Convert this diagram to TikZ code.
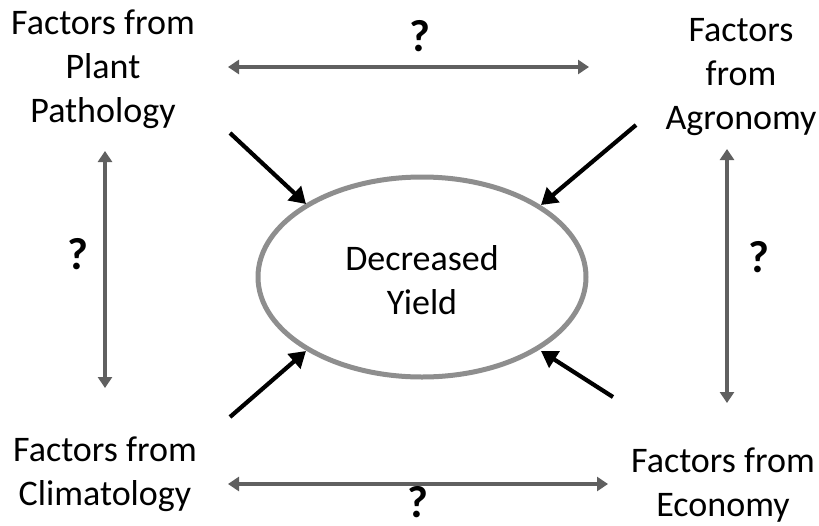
\documentclass[tikz,border=0pt]{standalone}
\usepackage{fontspec}
\setmainfont{Carlito}
\usetikzlibrary{shapes.geometric,arrows.meta}
\definecolor{ringgray}{HTML}{8E8E8E}
\definecolor{lingray}{HTML}{606060}
\tikzset{
  lbl/.style={font=\fontsize{36}{44}\selectfont, align=center, inner sep=0pt, text=black},
  qm/.style={font=\fontsize{45}{48}\selectfont\bfseries, inner sep=0pt},
  dbl/.style={draw=lingray, line width=3.5pt, {Triangle[width=14pt,length=11pt]}-{Triangle[width=14pt,length=11pt]}},
  blk/.style={draw=black, line width=4.2pt, -{Triangle[width=19pt,length=16pt]}},
}
\begin{document}
\begin{tikzpicture}[x=1pt,y=-1pt]
\useasboundingbox (0,0) rectangle (819,525);
\node[draw=ringgray, line width=5pt, ellipse, minimum width=328pt, minimum height=200pt, inner sep=0pt] (ell) at (422,277) {};
\node[lbl] (dy) at (422,280) {Decreased\\Yield};

\node[lbl] (pp) at (103,69) {Factors from\\Plant\\Pathology};
\node[lbl] (ag) at (741,77) {Factors\\from\\Agronomy};
\node[lbl] (cl) at (105,474) {Factors from\\Climatology};
\node[lbl] (ec) at (723,485) {Factors from\\Economy};

\coordinate (t1) at (228,67); \coordinate (t2) at (589,67);
\coordinate (b1) at (228,484); \coordinate (b2) at (608,484);
\coordinate (l1) at (105,151); \coordinate (l2) at (105,388);
\coordinate (r1) at (727,149); \coordinate (r2) at (727,403);
\draw[dbl] (t1) -- (t2);
\draw[dbl] (b1) -- (b2);
\draw[dbl] (l1) -- (l2);
\draw[dbl] (r1) -- (r2);
\node[qm] (q1) at (420,36) {?};
\node[qm] (q2) at (418,502) {?};
\node[qm] (q3) at (78,254) {?};
\node[qm] (q4) at (759,257) {?};

\coordinate (a1) at (230,133); \coordinate (e1) at (306,204);
\coordinate (a2) at (636,125); \coordinate (e2) at (541,205);
\coordinate (a3) at (230,417); \coordinate (e3) at (306,351);
\coordinate (a4) at (613,397); \coordinate (e4) at (541,351);
\draw[blk] (a1) -- (e1);
\draw[blk] (a2) -- (e2);
\draw[blk] (a3) -- (e3);
\draw[blk] (a4) -- (e4);
\end{tikzpicture}
\end{document}
